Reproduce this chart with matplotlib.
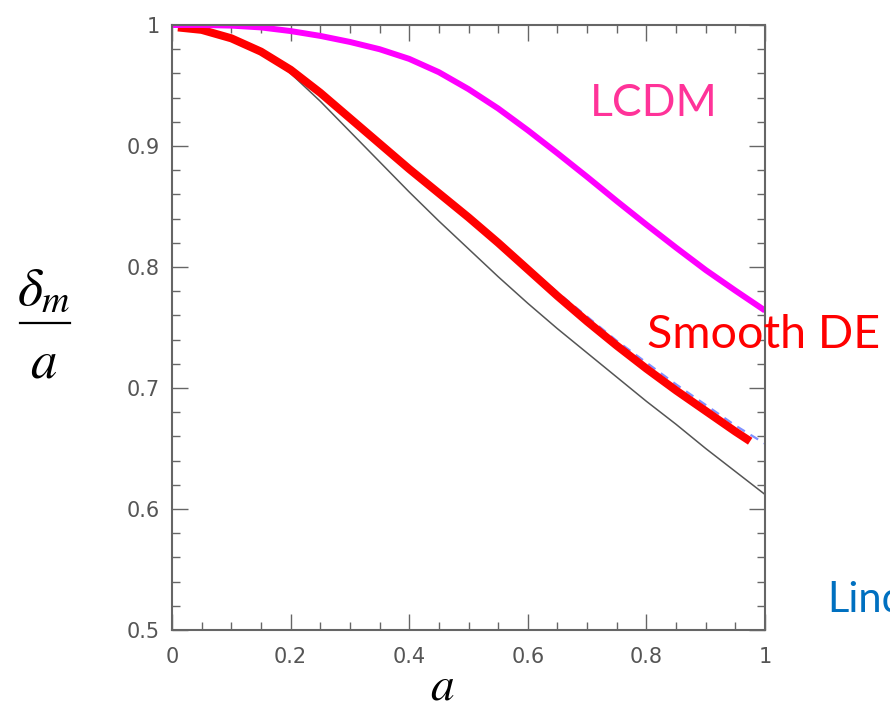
import numpy as np
import matplotlib
matplotlib.use('Agg')
import matplotlib.pyplot as plt
from matplotlib.ticker import MultipleLocator, FuncFormatter
from matplotlib.lines import Line2D

plt.rcParams['mathtext.fontset'] = 'stix'

# growth of matter perturbations
a_lcdm = [0.00, 0.05, 0.10, 0.15, 0.20, 0.25, 0.30, 0.35, 0.40, 0.45, 0.50,
          0.55, 0.60, 0.65, 0.70, 0.75, 0.80, 0.85, 0.90, 0.95, 1.00]
g_lcdm = [1.000, 1.000, 0.9995, 0.998, 0.995, 0.991, 0.986, 0.980, 0.972, 0.961, 0.947,
          0.931, 0.913, 0.894, 0.8745, 0.8545, 0.835, 0.816, 0.7975, 0.7805, 0.764]

a_smooth = [0.01, 0.05, 0.10, 0.15, 0.20, 0.25, 0.30, 0.35, 0.40, 0.45, 0.50,
            0.55, 0.60, 0.65, 0.70, 0.75, 0.80, 0.85, 0.90, 0.95, 0.975]
g_smooth = [0.998, 0.996, 0.989, 0.978, 0.963, 0.944, 0.923, 0.902, 0.881, 0.861, 0.841,
            0.820, 0.798, 0.776, 0.755, 0.735, 0.716, 0.698, 0.681, 0.664, 0.656]

a_linder = [0.00, 0.10, 0.20, 0.30, 0.40, 0.50, 0.55, 0.60, 0.65, 0.70, 0.75, 0.80,
            0.85, 0.90, 0.95, 1.00]
g_linder = [1.000, 0.989, 0.963, 0.923, 0.881, 0.841, 0.821, 0.800, 0.779, 0.759, 0.739, 0.721,
            0.703, 0.686, 0.669, 0.654]

a_black = [0.00, 0.05, 0.10, 0.15, 0.20, 0.25, 0.30, 0.35, 0.40, 0.45, 0.50,
           0.55, 0.60, 0.65, 0.70, 0.75, 0.80, 0.85, 0.90, 0.95, 1.00]
g_black = [1.000, 0.997, 0.990, 0.979, 0.960, 0.937, 0.912, 0.887, 0.862, 0.838, 0.815,
           0.792, 0.770, 0.749, 0.729, 0.709, 0.689, 0.670, 0.650, 0.631, 0.612]

fig = plt.figure(figsize=(8.9, 7.1), dpi=100, facecolor='white')
ax = fig.add_axes([172/890, 1-630/710, 593/890, 605/710])

ax.plot(a_black, g_black, color='#555555', lw=1.1)
ax.plot(a_linder, g_linder, color='#8090ff', lw=1.6, ls=(0, (4, 3)))
ax.plot(a_smooth, g_smooth, color='#ff0000', lw=5.8, solid_capstyle='butt')
ax.plot(a_lcdm, g_lcdm, color='#ff00ff', lw=4.3, solid_capstyle='butt')

ax.set_xlim(0, 1)
ax.set_ylim(0.5, 1)
ax.xaxis.set_major_locator(MultipleLocator(0.2))
ax.xaxis.set_minor_locator(MultipleLocator(0.05))
ax.yaxis.set_major_locator(MultipleLocator(0.1))
ax.yaxis.set_minor_locator(MultipleLocator(0.02))
fmt = FuncFormatter(lambda v, p: '%g' % round(v, 2))
ax.xaxis.set_major_formatter(fmt)
ax.yaxis.set_major_formatter(fmt)
ax.tick_params(which='both', direction='in', top=True, right=True, color='#666666', width=1.0)
ax.tick_params(which='major', length=11.5, labelsize=15, labelcolor='#555555')
ax.tick_params(which='minor', length=5.8)
ax.tick_params(axis='y', which='major', pad=9)
ax.tick_params(axis='x', which='major', pad=12)
for s in ax.spines.values():
    s.set_color('#666666')
    s.set_linewidth(1.5)

# axis labels drawn like the slide's equation objects
fig.text(442/890, 1-699/710, r'$a$', fontsize=34, ha='center', va='baseline')
fig.text(44/890, 1-305/710, r'$\delta_m$', fontsize=39, ha='center', va='baseline')
fig.add_artist(Line2D([20/890, 70/890], [1-323/710, 1-323/710], color='black', lw=1.6))
fig.text(44/890, 1-378/710, r'$a$', fontsize=38, ha='center', va='baseline')

fig.text(590/890, 1-116/710, 'LCDM', color='#ff3399', fontsize=32, family='Lato',
         va='baseline', ha='left')
fig.text(647/890, 1-348/710, 'Smooth DE', color='#ff0000', fontsize=33.5, family='Lato',
         va='baseline', ha='left')
fig.text(827/890, 1-612/710, 'Linder', color='#0070c0', fontsize=30, family='Lato',
         va='baseline', ha='left')

fig.savefig('out.png', dpi=100, facecolor='white')
